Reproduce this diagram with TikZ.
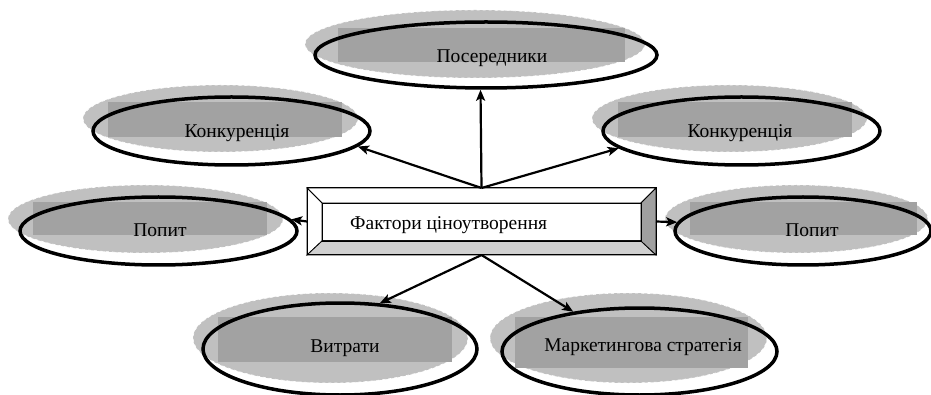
\documentclass[tikz,border=0pt]{standalone}
\usepackage{fontspec}
\setmainfont{Liberation Serif}
\usetikzlibrary{shapes.geometric,arrows.meta}
\definecolor{haloGray}{HTML}{C0C0C0}
\definecolor{plateGray}{HTML}{A2A2A2}
\definecolor{bevelLight}{HTML}{D0D0D0}
\definecolor{bevelDark}{HTML}{A0A0A0}
\tikzset{
  halo/.style={ellipse, fill=haloGray, draw=white, dashed, line width=0.6pt, inner sep=0pt},
  plate/.style={fill=plateGray, draw=none},
  ring/.style={ellipse, draw=black, line width=3.5pt, inner sep=0pt},
  lbl/.style={font=\fontsize{19.5}{22}\selectfont, text=black, inner sep=0pt, anchor=base},
  link/.style={-{Stealth[length=11pt,width=9pt,inset=2.5pt]}, line width=2.2pt},
  frame/.style={rectangle, draw=black, line width=1pt, outer sep=0pt, inner sep=0pt},
}
\begin{document}
\begin{tikzpicture}[x=1pt,y=-1pt]
\useasboundingbox (0,0) rectangle (931,395);

% --- factor ellipses: halo, plate, ring, caption ---
% Посередники
\node[halo, minimum width=340, minimum height=68] (midH) at (475,44) {};
\fill[plate] (338,28) rectangle (625,62);
\node[ring, minimum width=342, minimum height=66] (mid) at (486,55) {};
\node[lbl] (midT) at (492,63) {Посередники};

% Конкуренція (left)
\node[halo, minimum width=275, minimum height=67] (konLH) at (220.5,118.5) {};
\fill[plate] (108,102) rectangle (342,137);
\node[ring, minimum width=277, minimum height=68] (konL) at (231.5,131) {};
\node[lbl] (konLT) at (237,138) {Конкуренція};

% Конкуренція (right)
\node[halo, minimum width=275, minimum height=67] (konRH) at (729.5,118.5) {};
\fill[plate] (618,102) rectangle (852,137);
\node[ring, minimum width=277, minimum height=68] (konR) at (741.5,131) {};
\node[lbl] (konRT) at (740,138) {Конкуренція};

% Попит (left)
\node[halo, minimum width=275, minimum height=68] (popLH) at (145.5,219) {};
\fill[plate] (33,202) rectangle (267,235);
\node[ring, minimum width=277, minimum height=68] (popL) at (158.5,231) {};
\node[lbl] (popLT) at (160,236.5) {Попит};

% Попит (right)
\node[halo, minimum width=263, minimum height=68] (popRH) at (796.5,219) {};
\fill[plate] (690,202) rectangle (917,235);
\node[ring, minimum width=256, minimum height=68] (popR) at (803,231) {};
\node[lbl] (popRT) at (812,236.5) {Попит};

% Витрати
\node[halo, minimum width=275, minimum height=90] (vytrH) at (330.5,338) {};
\fill[plate] (218,317) rectangle (452,362);
\node[ring, minimum width=274, minimum height=92] (vytr) at (340,349) {};
\node[lbl] (vytrT) at (345,352.5) {Витрати};

% Маркетингова стратегія
\node[halo, minimum width=277, minimum height=90] (markH) at (628.5,338) {};
\fill[plate] (515,317) rectangle (748,368);
\node[ring, minimum width=275, minimum height=87] (mark) at (639.5,351.5) {};
\node[lbl] (markT) at (643,351.5) {Маркетингова стратегія};

% --- central bevelled box ---
\node[frame, minimum width=349, minimum height=67] (box) at (481.5,221.5) {};
\node[frame, minimum width=319, minimum height=38, fill=white] (face) at (481.5,222) {};
\filldraw[fill=white, draw=black, line width=0.8pt]
  (box.north west) -- (box.north east) -- (face.north east) -- (face.north west) -- cycle;
\filldraw[fill=white, draw=black, line width=0.8pt]
  (box.north west) -- (face.north west) -- (face.south west) -- (box.south west) -- cycle;
\filldraw[fill=bevelLight, draw=black, line width=0.8pt]
  (box.south west) -- (face.south west) -- (face.south east) -- (box.south east) -- cycle;
\filldraw[fill=bevelDark, draw=black, line width=0.8pt]
  (box.north east) -- (face.north east) -- (face.south east) -- (box.south east) -- cycle;
\draw[line width=1pt] (box.north west) rectangle (box.south east);
\draw[line width=0.8pt] (face.north west) rectangle (face.south east);
\node[lbl, anchor=base west] (boxT) at (350,229.3) {Фактори ціноутворення};

% --- connectors ---
\draw[link] (box.north) -- (mid.-99);
\draw[link] (box.north) -- (konL.-7.5);
\draw[link] (box.north) -- (konR.-172.5);
\draw[link] (box.west) -- (popL.5);
\draw[link] (box.east) -- (popR.176);
\draw[link] (box.south) -- (vytr.49);
\draw[link] (box.south) -- (mark.149);
\end{tikzpicture}
\end{document}
